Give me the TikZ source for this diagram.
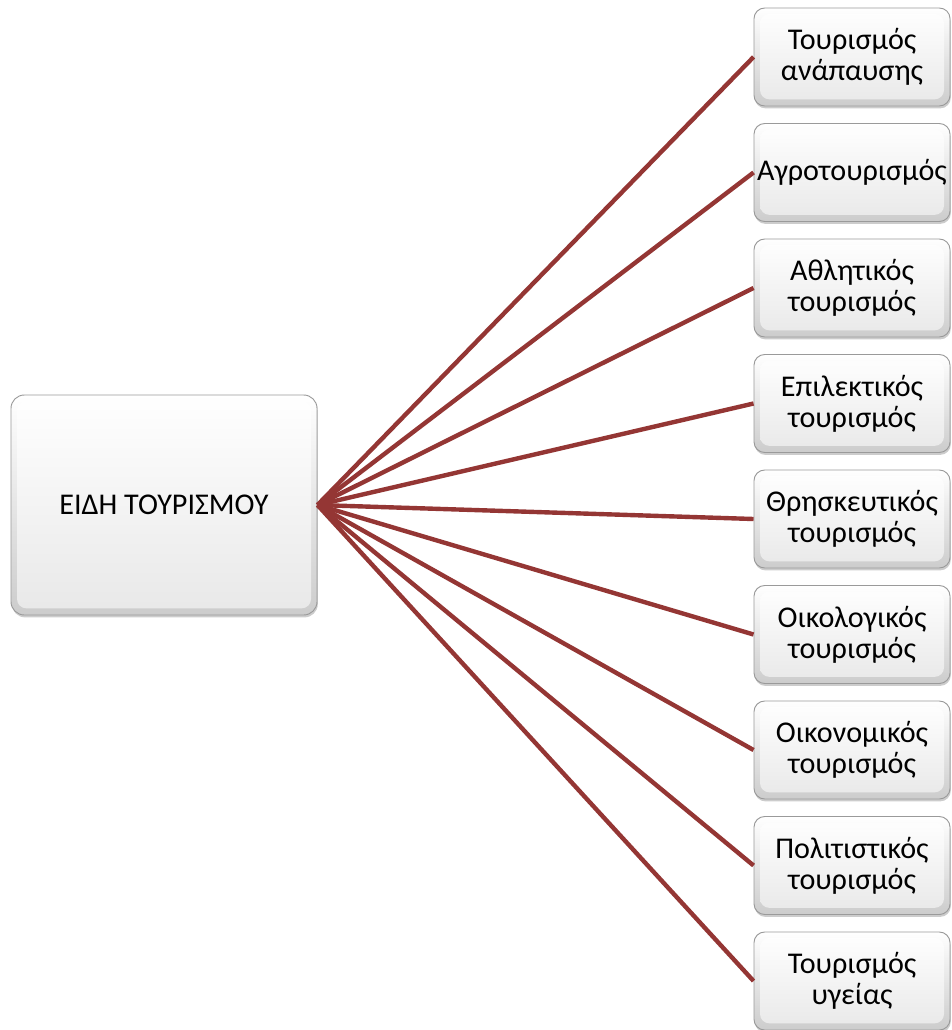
\documentclass[tikz,border=0pt]{standalone}
\usepackage{fontspec}
\setmainfont{Carlito}
\usetikzlibrary{shadows}
\definecolor{linkred}{HTML}{943634}
\definecolor{boxedge}{HTML}{9A9A9A}
\begin{document}
\begin{tikzpicture}[x=0.75pt,y=-0.75pt,
  bevel/.style={rounded corners=10pt, draw=boxedge, line width=0.7pt,
    top color=white, bottom color=gray!40, inner sep=0pt, align=center,
    text=black, font=\fontsize{22.6}{23.25}\selectfont,
    drop shadow={shadow xshift=0.6pt, shadow yshift=-1.8pt, opacity=0.4},
    path picture={\shade[top color=white, bottom color=gray!18, rounded corners=7pt]
      ([xshift=4.5pt,yshift=-4.5pt]path picture bounding box.north west) rectangle
      ([xshift=-4.5pt,yshift=5pt]path picture bounding box.south east);}},
  hubbox/.style={bevel, minimum width=229.5pt, minimum height=165pt},
  typebox/.style={bevel, rounded corners=8pt, minimum width=147pt, minimum height=73.5pt},
  link/.style={draw=linkred, line width=3.3pt}]
\useasboundingbox (0,0) rectangle (951,1030);

% central node
\node[hubbox] (hub) at (164,505) {ΕΙΔΗ ΤΟΥΡΙΣΜΟΥ};

% the nine kinds of tourism
\node[typebox] (t1) at (852,57)   {Τουρισμός\\ανάπαυσης};
\node[typebox] (t2) at (852,172.5) {Αγροτουρισμός};
\node[typebox] (t3) at (852,288)  {Αθλητικός\\τουρισμός};
\node[typebox] (t4) at (852,403.5) {Επιλεκτικός\\τουρισμός};
\node[typebox] (t5) at (852,519)  {Θρησκευτικός\\τουρισμός};
\node[typebox] (t6) at (852,634.5) {Οικολογικός\\τουρισμός};
\node[typebox] (t7) at (852,750)  {Οικονομικός\\τουρισμός};
\node[typebox] (t8) at (852,865.5) {Πολιτιστικός\\τουρισμός};
\node[typebox] (t9) at (852,981)  {Τουρισμός\\υγείας};

% connectors fanning out from the central node
\foreach \i in {1,...,9}
  \draw[link] (hub.east) -- (t\i.west);
\end{tikzpicture}
\end{document}
